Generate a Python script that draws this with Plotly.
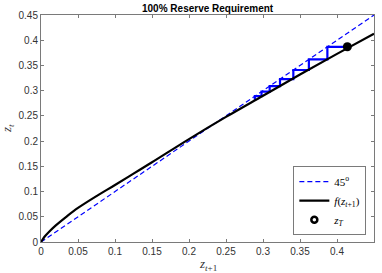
import plotly.graph_objects as go

# 45-degree reference line
diag_x = [0, 0.45]
diag_y = [0, 0.45]

# f(z_{t+1}) curve
f_x = [0, 0.005, 0.01, 0.02, 0.035, 0.05, 0.075, 0.1, 0.125, 0.15, 0.2, 0.25, 0.3, 0.35, 0.4, 0.45]
f_y = [0, 0.011, 0.019, 0.033, 0.051, 0.0675, 0.091, 0.113, 0.1355, 0.158, 0.204, 0.248, 0.290, 0.332, 0.373, 0.413]

# backward iteration sequence z_T, z_{T-1}, ...
z_seq = [0.414, 0.387, 0.362, 0.341, 0.323, 0.309, 0.298, 0.289, 0.282]

# terminal point
zT_x = [0.414]
zT_y = [0.387]

x_ticks = [0, 0.05, 0.1, 0.15, 0.2, 0.25, 0.3, 0.35, 0.4, 0.45]
y_ticks = [0, 0.05, 0.1, 0.15, 0.2, 0.25, 0.3, 0.35, 0.4, 0.45]

# staircase path built from the sequence
stair_x, stair_y = [z_seq[0]], [z_seq[1]]
for k in range(1, len(z_seq) - 1):
    stair_x += [z_seq[k], z_seq[k]]
    stair_y += [z_seq[k], z_seq[k + 1]]

fig = go.Figure()
fig.add_trace(go.Scatter(x=diag_x, y=diag_y, mode="lines",
                         line=dict(color="#0000FF", width=1.2, dash="5px,3px"),
                         name="45<sup>o</sup>"))
fig.add_trace(go.Scatter(x=stair_x, y=stair_y, mode="lines",
                         line=dict(color="#0000FF", width=2.2), showlegend=False))
fig.add_trace(go.Scatter(x=f_x, y=f_y, mode="lines", line_shape="spline",
                         line=dict(color="black", width=2.2),
                         name="<i>f</i>(<i>z</i><sub><i>t</i>+1</sub>)"))
fig.add_trace(go.Scatter(x=zT_x, y=zT_y, mode="markers",
                         marker=dict(color="black", size=9), showlegend=False))
fig.add_trace(go.Scatter(x=[None], y=[None], mode="markers",
                         marker=dict(color="white", size=6, symbol="circle",
                                     line=dict(color="black", width=2.5)),
                         name="<i>z</i><sub><i>T</i></sub>"))

axis_common = dict(showline=True, linecolor="#7a7a7a", linewidth=1, mirror="ticks",
                   ticks="inside", ticklen=3, tickcolor="#7a7a7a", showgrid=False,
                   zeroline=False, automargin=False,
                   tickfont=dict(family="Liberation Sans", size=10, color="#333333"))

fig.update_layout(
    template="none",
    width=382, height=273,
    margin=dict(l=41, r=8, t=15, b=31, autoexpand=False),
    paper_bgcolor="white", plot_bgcolor="white",
    xaxis=dict(range=[0, 0.45], tickvals=x_ticks, ticktext=[("%g" % v) for v in x_ticks], **axis_common),
    yaxis=dict(range=[0, 0.45], tickvals=y_ticks, ticktext=[("%g" % v) for v in y_ticks], **axis_common),
    showlegend=True,
    legend=dict(x=0.977, y=0.03, xanchor="right", yanchor="bottom",
                bgcolor="white", bordercolor="#7a7a7a", borderwidth=1,
                font=dict(family="Liberation Serif", size=11, color="black"),
                itemwidth=30, tracegroupgap=0),
    annotations=[
        dict(text="<b>100% Reserve Requirement</b>", x=0.5, y=1.0, xref="paper", yref="paper",
             xanchor="center", yanchor="bottom", yshift=-1, showarrow=False,
             font=dict(family="Liberation Sans", size=10, color="black")),
        dict(text="<i>z</i><sub><i>t</i>+1</sub>", x=0.5, y=0, xref="paper", yref="paper",
             xanchor="center", yanchor="top", yshift=-12, showarrow=False,
             font=dict(family="Liberation Serif", size=13, color="#333333")),
        dict(text="<i>z</i><sub><i>t</i></sub>", x=0, y=0.5, xref="paper", yref="paper",
             xanchor="right", yanchor="middle", xshift=-23, showarrow=False, textangle=-90,
             font=dict(family="Liberation Serif", size=13, color="#333333")),
    ],
)

fig.write_html("out.html", config={"displayModeBar": False},
               post_script="document.body.style.margin='0px';")
